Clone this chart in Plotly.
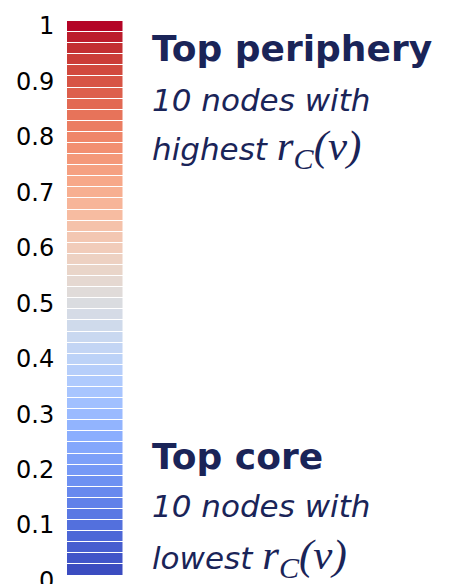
import plotly.graph_objects as go

# Band edges of the discretised colour scale (50 bands of 0.02)
bounds = [0.00, 0.02, 0.04, 0.06, 0.08, 0.10, 0.12, 0.14, 0.16, 0.18,
          0.20, 0.22, 0.24, 0.26, 0.28, 0.30, 0.32, 0.34, 0.36, 0.38,
          0.40, 0.42, 0.44, 0.46, 0.48, 0.50, 0.52, 0.54, 0.56, 0.58,
          0.60, 0.62, 0.64, 0.66, 0.68, 0.70, 0.72, 0.74, 0.76, 0.78,
          0.80, 0.82, 0.84, 0.86, 0.88, 0.90, 0.92, 0.94, 0.96, 0.98,
          1.00]
tick_vals = [0.0, 0.1, 0.2, 0.3, 0.4, 0.5, 0.6, 0.7, 0.8, 0.9, 1.0]
tick_text = ["0", "0.1", "0.2", "0.3", "0.4", "0.5", "0.6", "0.7", "0.8", "0.9", "1"]

# Moreland "cool to warm" diverging map
coolwarm_rgb = [
    (59, 76, 192), (68, 90, 204), (77, 104, 215), (87, 117, 225),
    (98, 130, 234), (108, 142, 241), (119, 154, 247), (130, 165, 251),
    (141, 176, 254), (152, 185, 255), (163, 194, 255), (174, 201, 253),
    (184, 208, 249), (194, 213, 244), (204, 217, 238), (213, 219, 230),
    (221, 221, 221), (229, 216, 209), (236, 211, 197), (241, 204, 185),
    (245, 196, 173), (247, 187, 160), (247, 177, 148), (247, 166, 135),
    (244, 154, 123), (241, 141, 111), (236, 127, 99), (229, 112, 88),
    (222, 96, 77), (213, 80, 66), (203, 62, 56), (192, 40, 47),
    (180, 4, 38),
]
n = len(coolwarm_rgb) - 1
colorscale = [[i / n, "rgb(%d,%d,%d)" % c] for i, c in enumerate(coolwarm_rgb)]

centers = [(a + b) / 2 for a, b in zip(bounds[:-1], bounds[1:])]
z = [[c] for c in centers]

fig = go.Figure(go.Heatmap(
    z=z, x=[0, 1], y=bounds,
    colorscale=colorscale, zmin=centers[0], zmax=centers[-1],
    showscale=False, ygap=1, hoverinfo="skip",
))

W, H = 462, 584
x0, x1 = 67, 122.5
ytop, ybot = 21, 575.5

navy = "#1a2458"
mathspan = "<span style=\"font-family:'Liberation Serif';font-size:43px\">r<sub>C</sub>(v)</span>"

def px_x(p):
    return p / W

def px_y(p):
    return 1 - p / H

annos = []
def add(text, xpx, ypx, size, bold=False, italic=False):
    t = text
    if bold:
        t = "<b>" + t + "</b>"
    if italic:
        t = "<i>" + t + "</i>"
    annos.append(dict(
        text=t, x=px_x(xpx), y=px_y(ypx), xref="paper", yref="paper",
        xanchor="left", yanchor="middle", showarrow=False,
        font=dict(family="DejaVu Sans", size=size, color=navy),
    ))

add("Top periphery", 150, 48, 36, bold=True)
add("10 nodes with", 150, 100, 31, italic=True)
add("highest " + mathspan, 150, 149, 31, italic=True)
add("Top core", 150, 456, 36, bold=True)
add("10 nodes with", 150, 506, 31, italic=True)
add("lowest " + mathspan, 150, 558, 31, italic=True)

fig.update_layout(
    width=W, height=H,
    margin=dict(l=0, r=0, t=0, b=0),
    paper_bgcolor="white", plot_bgcolor="white",
    showlegend=False,
    xaxis=dict(domain=[x0 / W, x1 / W], range=[0, 1], visible=False,
               fixedrange=True, automargin=False),
    yaxis=dict(domain=[1 - ybot / H, 1 - ytop / H], range=[0, 1],
               automargin=False, ticklabeloverflow="allow",
               tickvals=tick_vals, ticktext=tick_text,
               ticks="outside", ticklen=7, tickcolor="rgba(0,0,0,0)",
               ticklabelshift=5,
               showgrid=False, zeroline=False, showline=False,
               tickfont=dict(family="DejaVu Sans", size=24, color="black")),
    annotations=annos,
)

fig.write_html("out.html")
